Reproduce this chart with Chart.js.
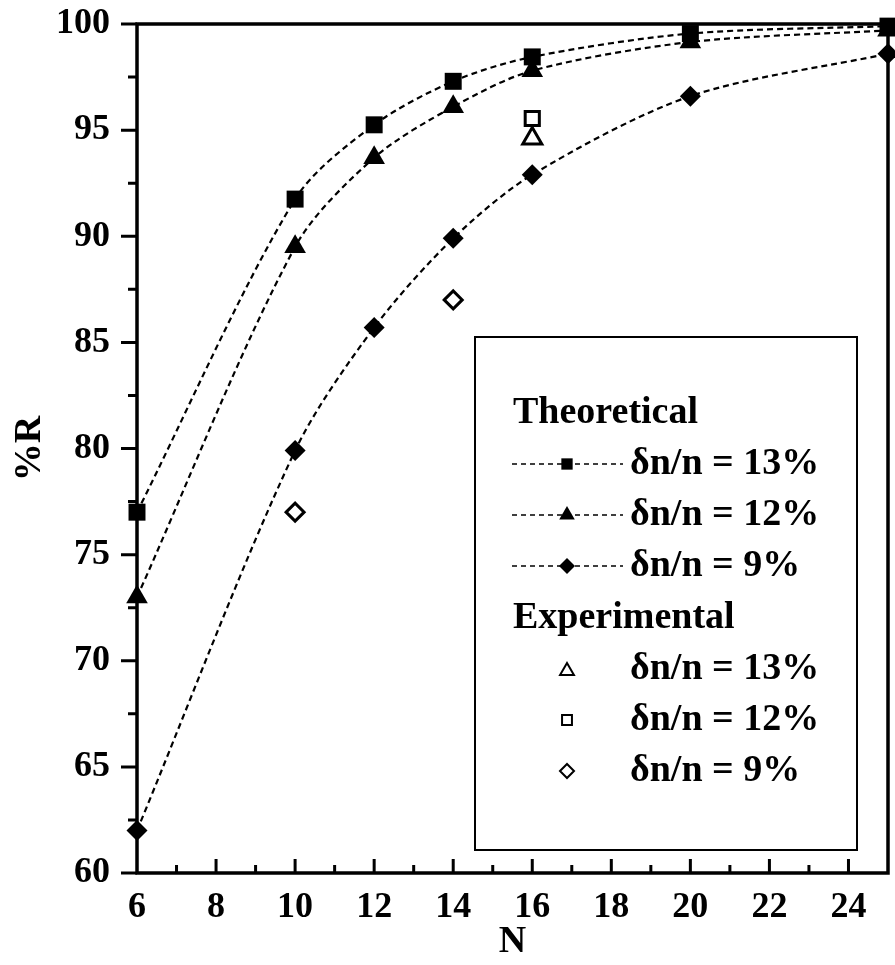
<!DOCTYPE html>
<html>
<head>
<meta charset="utf-8">
<title>%R vs N</title>
<script src="https://cdn.jsdelivr.net/npm/chart.js@4/dist/chart.umd.min.js"></script>
<style>
  html, body { margin: 0; padding: 0; background: #fff; overflow: hidden; }
  #wrap { position: relative; width: 895px; height: 965px; }
</style>
</head>
<body>
<div id="wrap"><canvas id="grafico"></canvas></div>
<script>
// valores
const nTeorico = [6, 10, 12, 14, 16, 20, 25];
const teorico13 = [77.0, 91.75, 95.25, 97.3, 98.45, 99.55, 99.9];
const teorico12 = [73.0, 89.5, 93.7, 96.1, 97.8, 99.15, 99.7];
const teorico9 = [62.0, 79.9, 85.7, 89.9, 92.9, 96.6, 98.6];

const nExp13 = [16];
const exp13 = [94.6];
const nExp12 = [16];
const exp12 = [95.55];
const nExp9 = [10, 14];
const exp9 = [77.0, 87.0];

const ticksX = [6, 8, 10, 12, 14, 16, 18, 20, 22, 24];
const ticksY = [60, 65, 70, 75, 80, 85, 90, 95, 100];

const rotulosLegenda = ["δn/n = 13%", "δn/n = 12%", "δn/n = 9%"];

const pontos = (xs, ys) => xs.map((x, i) => ({ x, y: ys[i] }));

function serieTeorica(label, ys, estilo, raio) {
  return {
    label,
    data: pontos(nTeorico, ys),
    showLine: true,
    borderColor: "#000",
    backgroundColor: "#000",
    borderWidth: 2.2,
    borderDash: [6, 4],
    tension: 0.3,
    pointStyle: estilo,
    pointRadius: raio,
    pointHoverRadius: raio,
    pointBorderWidth: 0,
    clip: false
  };
}

function serieExperimental(label, xs, ys, estilo, raio) {
  return {
    label,
    data: pontos(xs, ys),
    showLine: false,
    borderColor: "#000",
    backgroundColor: "#fff",
    pointStyle: estilo,
    pointRadius: raio,
    pointHoverRadius: raio,
    pointBorderWidth: 3,
    clip: false
  };
}

// moldura e marcas dos eixos (x para dentro, y para fora)
const molduraEixos = {
  id: "molduraEixos",
  beforeDatasetsDraw(chart) {
    const { ctx, chartArea: a, scales } = chart;
    ctx.save();
    ctx.strokeStyle = "#000";
    ctx.lineWidth = 3.5;
    ctx.strokeRect(a.left, a.top, a.right - a.left, a.bottom - a.top);
    ctx.lineWidth = 3;
    ctx.beginPath();
    for (let v = 60; v <= 100; v += 2.5) {
      const y = scales.y.getPixelForValue(v);
      const len = v % 5 === 0 ? 16 : 9;
      ctx.moveTo(a.left, y);
      ctx.lineTo(a.left - len, y);
    }
    for (let v = 7; v <= 24; v += 1) {
      const x = scales.x.getPixelForValue(v);
      const len = v % 2 === 0 ? 14 : 8;
      ctx.moveTo(x, a.bottom);
      ctx.lineTo(x, a.bottom - len);
    }
    ctx.stroke();
    ctx.restore();
  },
  afterDatasetsDraw(chart) {
    const { ctx, chartArea: a } = chart;
    const caixa = { x: a.right - 413, y: a.top + 313, w: 382, h: 513 };
    ctx.save();
    ctx.fillStyle = "#fff";
    ctx.fillRect(caixa.x, caixa.y, caixa.w, caixa.h);
    ctx.strokeStyle = "#000";
    ctx.lineWidth = 2;
    ctx.strokeRect(caixa.x, caixa.y, caixa.w, caixa.h);

    ctx.fillStyle = "#000";
    ctx.font = "bold 38px 'Liberation Serif'";
    ctx.textBaseline = "middle";
    ctx.textAlign = "left";
    const xTexto = caixa.x + 38;
    const xRotulo = caixa.x + 155;
    const xMarca = caixa.x + 92;
    const passo = 51;
    let y = caixa.y + 76;
    ctx.fillText("Theoretical", xTexto, y);

    const estilosT = ["rect", "triangle", "rectRot"];
    const raiosT = [8, 9, 8];
    estilosT.forEach((estilo, i) => {
      y += passo;
      ctx.save();
      ctx.strokeStyle = "#000";
      ctx.lineWidth = 1.5;
      ctx.setLineDash([5, 4]);
      ctx.beginPath();
      ctx.moveTo(caixa.x + 37, y);
      ctx.lineTo(caixa.x + 148, y);
      ctx.stroke();
      ctx.restore();
      ctx.fillStyle = "#000";
      Chart.helpers.drawPoint(ctx, { pointStyle: estilo, radius: raiosT[i], rotation: 0, borderWidth: 0 }, xMarca, y);
      ctx.fillText(rotulosLegenda[i], xRotulo, y);
    });

    y += passo + 1;
    ctx.fillText("Experimental", xTexto, y);

    const estilosE = ["triangle", "rect", "rectRot"];
    const raiosE = [8, 7, 7];
    estilosE.forEach((estilo, i) => {
      y += passo;
      ctx.save();
      ctx.fillStyle = "#fff";
      ctx.strokeStyle = "#000";
      Chart.helpers.drawPoint(ctx, { pointStyle: estilo, radius: raiosE[i], rotation: 0, borderWidth: 3 }, xMarca, y + (estilo === "triangle" ? 2 : 0));
      ctx.restore();
      ctx.fillStyle = "#000";
      ctx.fillText(rotulosLegenda[i], xRotulo, y);
    });
    ctx.restore();
  }
};

Chart.defaults.font.family = "'Liberation Serif', 'Times New Roman', serif";
Chart.defaults.font.weight = "bold";
Chart.defaults.color = "#000";

new Chart(document.getElementById("grafico"), {
  type: "scatter",
  data: {
    datasets: [
      serieTeorica("Theoretical δn/n = 13%", teorico13, "rect", 12),
      serieTeorica("Theoretical δn/n = 12%", teorico12, "triangle", 12.5),
      serieTeorica("Theoretical δn/n = 9%", teorico9, "rectRot", 10.5),
      serieExperimental("Experimental δn/n = 13%", nExp13, exp13, "triangle", 11),
      serieExperimental("Experimental δn/n = 12%", nExp12, exp12, "rect", 10),
      serieExperimental("Experimental δn/n = 9%", nExp9, exp9, "rectRot", 9)
    ]
  },
  options: {
    responsive: true,
    maintainAspectRatio: false,
    animation: false,
    // sem autoPadding: os marcadores nas bordas nao devem encolher a area
    layout: { autoPadding: false, padding: { top: 24, right: 7, left: 0, bottom: 0 } },
    plugins: { legend: { display: false }, tooltip: { enabled: false } },
    scales: {
      x: {
        type: "linear",
        min: 6,
        max: 25,
        grid: { display: false, drawTicks: false },
        border: { display: false },
        afterBuildTicks: (s) => { s.ticks = ticksX.map((v) => ({ value: v })); },
        afterFit: (s) => { s.height = 92; s.paddingLeft = 0; s.paddingRight = 0; },
        ticks: { font: { size: 36, weight: "bold" }, padding: 13, maxRotation: 0, autoSkip: false },
        title: { display: true, text: "N", font: { size: 38, weight: "bold" }, padding: { top: 0, bottom: 0 } }
      },
      y: {
        min: 60,
        max: 100,
        grid: { display: false, drawTicks: false },
        border: { display: false },
        afterBuildTicks: (s) => { s.ticks = ticksY.map((v) => ({ value: v })); },
        afterFit: (s) => { s.width = 137; s.paddingTop = 0; s.paddingBottom = 0; },
        ticks: { font: { size: 36, weight: "bold" }, padding: 27 },
        title: { display: true, text: "%R", font: { size: 38, weight: "bold" }, padding: { top: 7, bottom: 0 } }
      }
    }
  },
  plugins: [molduraEixos]
});
</script>
</body>
</html>
